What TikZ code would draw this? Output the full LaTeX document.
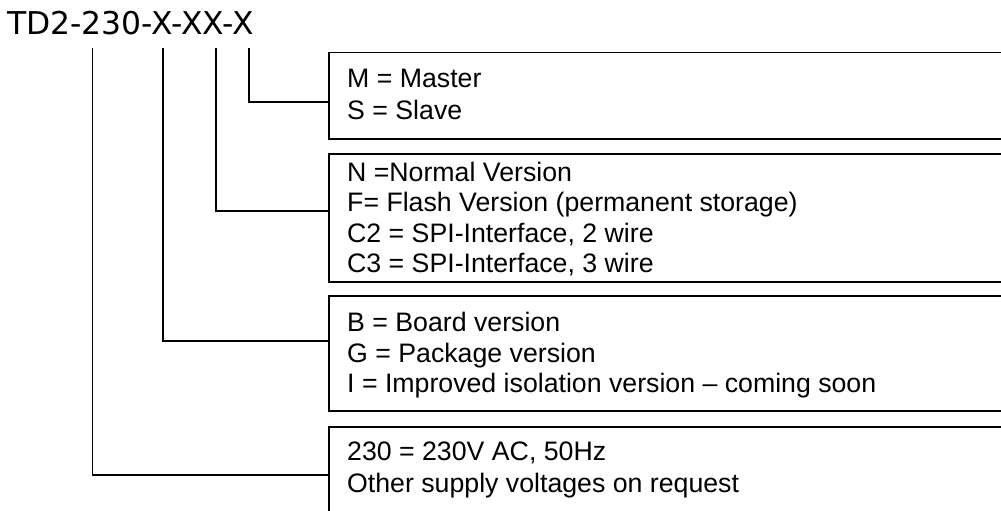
\documentclass[tikz,border=0pt]{standalone}
\usepackage{fontspec}
\setmainfont{Liberation Sans}
\newfontfamily\titlefont{DejaVu Sans}
\begin{document}
\begin{tikzpicture}[x=1pt,y=-1pt,
  box/.style={draw=black, line width=1.5pt, rectangle, anchor=north west, inner sep=0pt, minimum width=720pt},
  txt/.style={anchor=base west, inner sep=0pt, font=\fontsize{26.7}{31}\selectfont},
  conn/.style={draw=black, line width=1.5pt}]
\useasboundingbox (0,0) rectangle (1001,511);
\clip (0,0) rectangle (1001,511);
\node[anchor=base west, inner sep=0pt, font=\titlefont\fontsize{31.4}{36}\selectfont] (title) at (7,35) {TD2-230-X-XX-X};
% boxes
\node[box, minimum height=86pt] (b1) at (328,52) {};
\node[box, minimum height=128pt] (b2) at (328,153) {};
\node[box, minimum height=115pt] (b3) at (328,295) {};
\node[box, minimum height=100pt] (b4) at (328,426) {};
% texts
\node[txt] (t11) at (347,88) {M = Master};
\node[txt] (t12) at (347,119) {S = Slave};
\node[txt] (t21) at (347,181) {N =Normal Version};
\node[txt] (t22) at (347,211) {F= Flash Version (permanent storage)};
\node[txt] (t23) at (347,242) {C2 = SPI-Interface, 2 wire};
\node[txt] (t24) at (347,272) {C3 = SPI-Interface, 3 wire};
\node[txt] (t31) at (347,331) {B = Board version};
\node[txt] (t32) at (347,362) {G = Package version};
\node[txt] (t33) at (347,392) {I = Improved isolation version – coming soon};
\node[txt] (t41) at (347,460) {230 = 230V AC, 50Hz};
\node[txt] (t42) at (347,492) {Other supply voltages on request};
% connectors
\coordinate (c1) at (92.5,48);
\coordinate (c2) at (163,48);
\coordinate (c3) at (216,48);
\coordinate (c4) at (249,48);
\draw[conn] (c4) |- ([yshift=-6pt]b1.west);
\draw[conn] (c3) |- ([yshift=7pt]b2.west);
\draw[conn] (c2) |- ([yshift=12.5pt]b3.west);
\draw[conn] (c1) |- ([yshift=2pt]b4.west);
\end{tikzpicture}
\end{document}
